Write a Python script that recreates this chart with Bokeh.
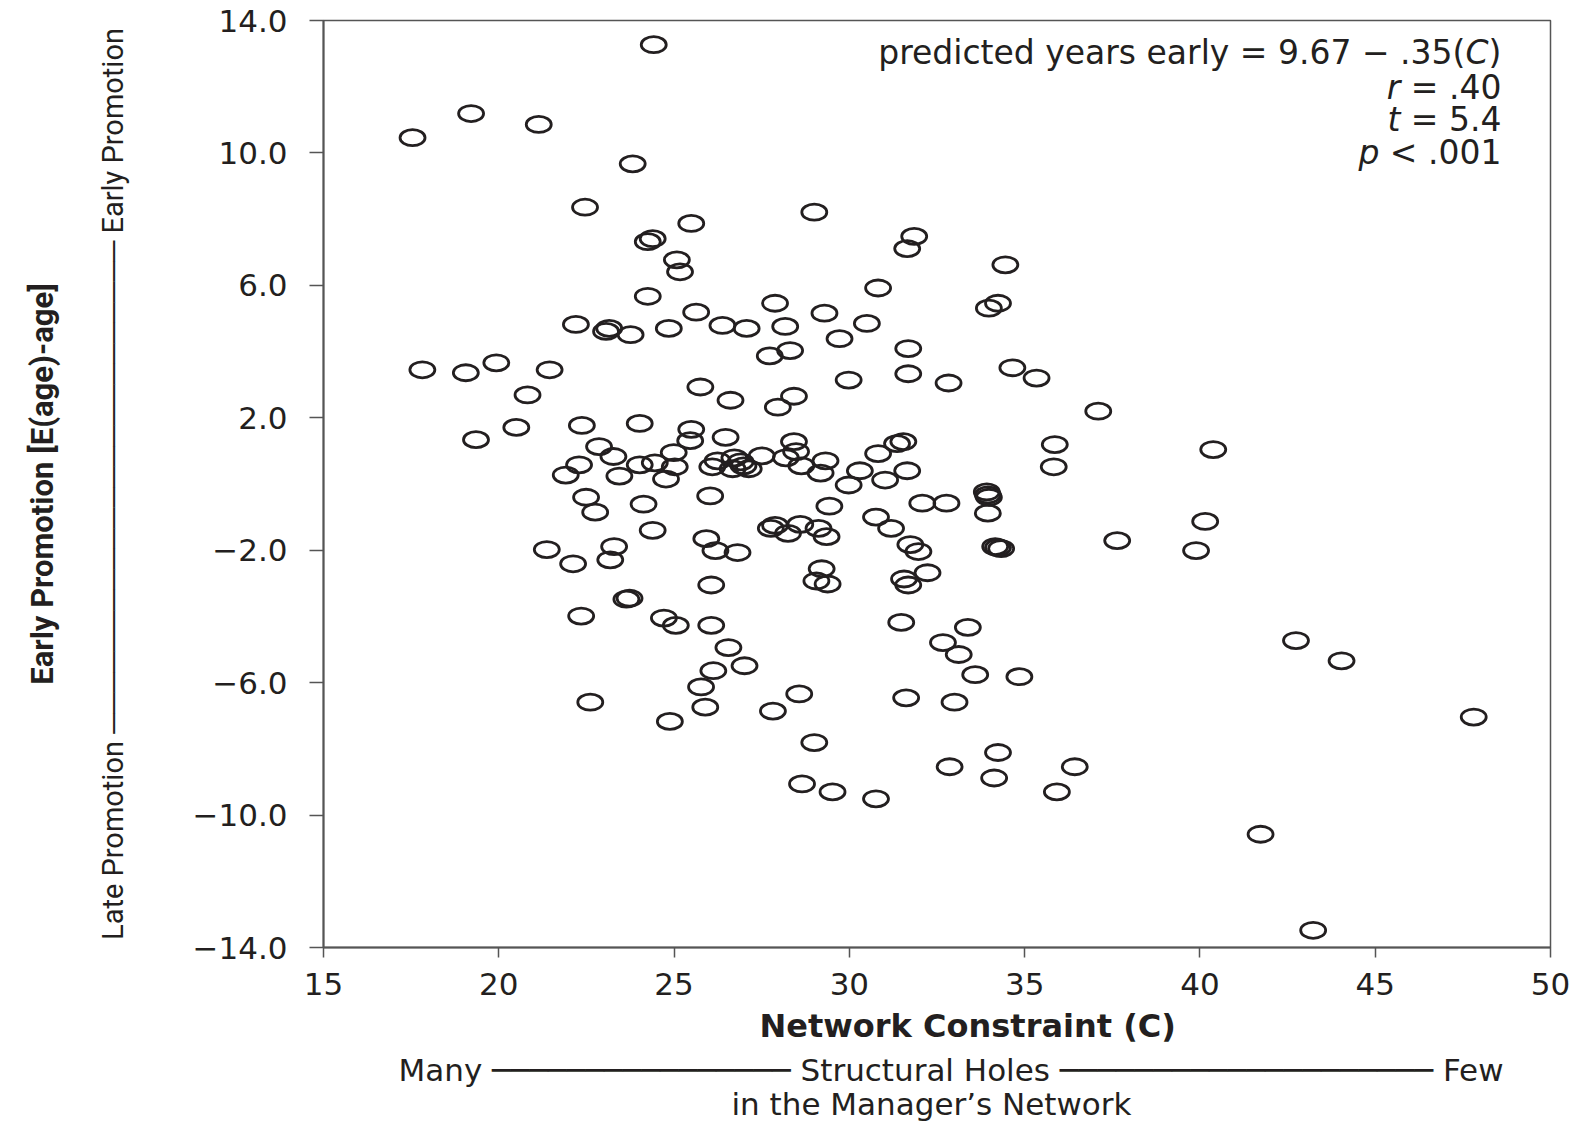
import numpy as np
from bokeh.plotting import figure
from bokeh.models import Range1d, FixedTicker, Label, LinearAxis, Title
from bokeh.embed import file_html
from bokeh.resources import INLINE

# ---- data: network constraint (C) vs years of early promotion ----
constraint = [
    24.42, 17.54, 19.21, 21.14, 23.82, 22.46, 29.00, 25.49, 24.25, 24.39,
    31.85, 31.65, 34.45, 25.08, 25.17, 30.82, 24.25, 27.88, 34.24, 33.98,
    29.29, 25.63, 22.20, 23.15, 23.06, 23.76, 24.85, 26.38, 27.07, 28.17,
    30.50, 29.72, 27.73, 28.31, 31.68, 17.82, 19.06, 19.93, 21.45, 20.82,
    25.75, 26.61, 28.42, 29.98, 31.68, 32.83, 34.65, 35.34, 37.10, 27.96,
    22.37, 24.02, 20.50, 19.35, 25.49, 25.46, 26.47, 22.86, 23.27, 24.99,
    22.29, 21.91, 23.44, 24.02, 24.45, 25.02, 24.77, 26.09, 26.24, 26.72,
    26.90, 26.98, 26.67, 27.13, 27.50, 28.42, 28.48, 28.19, 28.63, 29.32,
    29.18, 30.30, 30.82, 31.36, 31.54, 31.65, 31.02, 29.98, 29.43, 26.03,
    24.13, 22.49, 22.75, 24.39, 30.76, 31.19, 32.08, 32.77, 33.92, 33.95,
    33.98, 33.95, 34.16, 34.33, 34.24, 35.86, 35.83, 40.38, 40.15, 37.64,
    39.89, 27.76, 27.88, 28.25, 28.60, 29.12, 29.35, 25.92, 26.18, 26.81,
    21.37, 22.12, 23.29, 23.18, 31.74, 31.97, 32.23, 29.21, 29.06, 29.38,
    31.56, 31.68, 26.06, 23.64, 23.73, 22.35, 24.71, 25.05, 26.06, 31.48,
    33.38, 32.67, 33.12, 26.55, 27.01, 26.12, 33.59, 34.85, 25.77, 22.61,
    25.89, 24.88, 27.82, 28.57, 31.62, 33.00, 29.00, 34.24, 32.86, 36.43,
    34.13, 28.65, 29.52, 30.76, 35.92, 42.74, 44.04, 47.81, 41.73, 43.23,
]
early_years = [
    13.27, 10.46, 11.19, 10.86, 9.67, 8.36, 8.21, 7.87, 7.32, 7.41,
    7.48, 7.11, 6.62, 6.77, 6.41, 5.92, 5.67, 5.46, 5.46, 5.31,
    5.16, 5.19, 4.82, 4.70, 4.61, 4.51, 4.70, 4.79, 4.70, 4.76,
    4.85, 4.39, 3.87, 4.03, 4.09, 3.45, 3.36, 3.66, 3.45, 2.69,
    2.93, 2.53, 2.65, 3.14, 3.33, 3.05, 3.51, 3.20, 2.20, 2.32,
    1.77, 1.83, 1.71, 1.34, 1.65, 1.31, 1.41, 1.13, 0.83, 0.95,
    0.58, 0.27, 0.24, 0.58, 0.64, 0.52, 0.15, 0.52, 0.70, 0.79,
    0.67, 0.55, 0.46, 0.46, 0.85, 1.28, 0.98, 0.79, 0.55, 0.70,
    0.33, 0.40, 0.92, 1.22, 1.28, 0.40, 0.12, -0.03, -0.67, -0.36,
    -0.61, -0.40, -0.85, -1.40, -1.00, -1.34, -0.58, -0.58, -0.24, -0.33,
    -0.40, -0.88, -1.89, -1.95, -1.92, 1.19, 0.52, 1.04, -1.13, -1.71,
    -2.01, -1.34, -1.25, -1.49, -1.22, -1.34, -1.59, -1.65, -2.01, -2.07,
    -1.98, -2.41, -1.89, -2.29, -1.83, -2.04, -2.68, -2.56, -2.93, -3.02,
    -2.87, -3.05, -3.05, -3.48, -3.45, -3.99, -4.05, -4.27, -4.27, -4.18,
    -4.33, -4.79, -5.15, -4.94, -5.49, -5.64, -5.76, -5.82, -6.13, -6.59,
    -6.74, -7.17, -6.86, -6.34, -6.46, -6.59, -7.81, -8.11, -8.54, -8.54,
    -8.88, -9.06, -9.30, -9.51, -9.30, -4.73, -5.34, -7.04, -10.58, -13.48,
]

x_ticks = [15, 20, 25, 30, 35, 40, 45, 50]
x_tick_labels = ["15", "20", "25", "30", "35", "40", "45", "50"]
y_ticks = [14, 10, 6, 2, -2, -6, -10, -14]
y_tick_labels = ["14.0", "10.0", "6.0", "2.0", "\u22122.0", "\u22126.0", "\u221210.0", "\u221214.0"]

x_title = "Network Constraint (C)"
x_subtitle_1 = "Many " + "\u2500" * 16 + " Structural Holes " + "\u2500" * 20 + " Few"
x_subtitle_2 = "in the Manager\u2019s Network"
y_title = "Early Promotion [E(age)-age]"
y_subtitle = "Late Promotion " + "\u2500" * 24 + " Early Promotion"

ink = "#231f20"
frame_col = "#555555"
font = "DejaVu Sans"
narrow = "Roboto"

p = figure(width=1573, height=1123,
           x_range=Range1d(15, 50), y_range=Range1d(-14, 14),
           output_backend="svg", toolbar_location=None,
           min_border_left=323, min_border_right=23,
           min_border_top=20, min_border_bottom=176)
p.xgrid.visible = False
p.ygrid.visible = False
p.outline_line_color = frame_col
p.outline_line_width = 1.5
p.background_fill_color = "white"
p.border_fill_color = "white"

p.ellipse(x=constraint, y=early_years, width=25, height=16,
          width_units="screen", height_units="screen",
          fill_color=None, line_color=ink, line_width=2.8)

for ax in (p.xaxis, p.yaxis):
    ax.axis_line_color = frame_col
    ax.axis_line_width = 2
    ax.major_tick_line_color = frame_col
    ax.major_tick_line_width = 1.5
    ax.major_tick_in = 0
    ax.minor_tick_line_color = None
    ax.major_label_text_font = font
    ax.major_label_text_font_size = "31px"
    ax.major_label_text_color = ink

p.xaxis.ticker = FixedTicker(ticks=x_ticks)
p.xaxis.major_label_overrides = {t: l for t, l in zip(x_ticks, x_tick_labels)}
p.xaxis.major_tick_out = 10
p.xaxis.major_label_standoff = 15

p.yaxis.ticker = FixedTicker(ticks=y_ticks)
p.yaxis.major_label_overrides = {t: l for t, l in zip(y_ticks, y_tick_labels)}
p.yaxis.major_tick_out = 14
p.yaxis.major_label_standoff = 22
p.yaxis.axis_label = y_subtitle
p.yaxis.axis_label_text_font = narrow
p.yaxis.axis_label_text_font_style = "normal"
p.yaxis.axis_label_text_font_size = "29px"
p.yaxis.axis_label_text_color = ink
p.yaxis.axis_label_standoff = 60

# outer left axis only carries the bold y title
y_outer = LinearAxis(ticker=FixedTicker(ticks=[]), axis_label=y_title,
                     axis_line_color=None, major_tick_line_color=None,
                     minor_tick_line_color=None, major_tick_out=0, major_tick_in=0,
                     major_label_standoff=0, axis_label_standoff=32,
                     axis_label_text_font=narrow, axis_label_text_font_style="bold",
                     axis_label_text_font_size="31px", axis_label_text_color=ink)
p.add_layout(y_outer, "left")

# x titles below the axis
p.add_layout(Title(text=x_title, align="left", offset=436, standoff=18,
                   vertical_align="top", text_font=font, text_font_style="bold",
                   text_font_size="32px", text_color=ink), "below")
p.add_layout(Title(text=x_subtitle_1, align="left", offset=75, standoff=-8,
                   vertical_align="top", text_font=font, text_font_style="normal",
                   text_font_size="31px", text_color=ink), "below")
p.add_layout(Title(text=x_subtitle_2, align="left", offset=408, standoff=0,
                   vertical_align="top", text_font=font, text_font_style="normal",
                   text_font_size="31px", text_color=ink), "below")


def lab(x, y, text, size="33px", style="normal", align="left", xoff=0):
    p.add_layout(Label(x=x, y=y, text=text, text_font=font, text_font_size=size,
                       text_font_style=style, text_align=align,
                       text_baseline="alphabetic", x_offset=xoff, text_color=ink))


# ---- regression annotation (top right) ----
ax_r = 48.6
lab(ax_r, 13.03, ")", align="right")
lab(ax_r, 13.03, "C", style="italic", align="right", xoff=-13)
lab(ax_r, 13.03, "predicted years early = 9.67 \u2212 .35(", align="right", xoff=-36)
lab(ax_r, 11.97, "= .40", align="right")
lab(ax_r, 11.97, "r", style="italic", align="right", xoff=-101)
lab(ax_r, 11.01, "= 5.4", align="right")
lab(ax_r, 11.01, "t", style="italic", align="right", xoff=-101)
lab(ax_r, 10.01, "< .001", align="right")
lab(ax_r, 10.01, "p", style="italic", align="right", xoff=-122)

open("out.html", "w").write(file_html(p, INLINE))
